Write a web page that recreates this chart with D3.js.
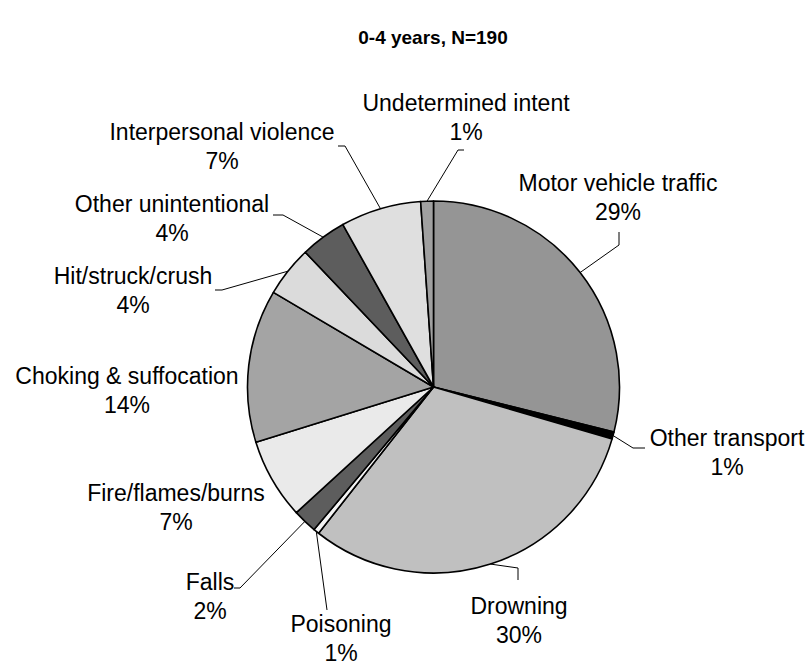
<!DOCTYPE html>
<html>
<head>
<meta charset="utf-8">
<script src="https://cdn.jsdelivr.net/npm/d3@7/dist/d3.min.js"></script>
<style>
  html, body { margin: 0; padding: 0; background: #fff; }
  text { font-family: "Liberation Sans", Arial, sans-serif; fill: #000; }
</style>
</head>
<body>
<svg id="chart" width="808" height="665"></svg>
<script>
// ---- data ----
const title = "0-4 years, N=190";
const categories = [
  "Motor vehicle traffic", "Other transport", "Drowning", "Poisoning", "Falls",
  "Fire/flames/burns", "Choking & suffocation", "Hit/struck/crush",
  "Other unintentional", "Interpersonal violence", "Undetermined intent"
];
// share of the pie (percent, as measured from slice angles)
const shares = [28.9, 0.6, 31.1, 0.5, 2.1, 7.0, 13.3, 4.4, 4.0, 7.0, 1.1];
// percentages printed on the chart
const pctLabels = ["29%", "1%", "30%", "1%", "2%", "7%", "14%", "4%", "4%", "7%", "1%"];

// ---- styling ----
const fills = [
  {base: "#a4a4a4", dot: "#868686"},  // MVT
  {base: "#000000", dot: "#000000"},  // other transport
  {base: "#c0c0c0", dot: "#c0c0c0"},  // drowning
  {base: "#f4f4f4", dot: "#f4f4f4"},  // poisoning
  {base: "#6c6c6c", dot: "#4e4e4e"},  // falls
  {base: "#ffffff", dot: "#d4d4d4"},  // fire
  {base: "#b0b0b0", dot: "#989898"},  // choking
  {base: "#eeeeee", dot: "#c8c8c8"},  // hit
  {base: "#6c6c6c", dot: "#4e4e4e"},  // other unint
  {base: "#f2f2f2", dot: "#cccccc"},  // IV
  {base: "#b0b0b0", dot: "#909090"}   // undetermined
];

// label layout: text center x, first-line baseline y, leader elbow/end points
const layout = [
  {x: 618, y: 191, leader: [[619, 245], [619, 232]]},
  {x: 727, y: 446, leader: [[633, 448], [645, 448]]},
  {x: 519, y: 614, leader: [[518, 568], [518, 580]]},
  {x: 341, y: 632, leader: [[327, 610]]},
  {x: 210, y: 590, leader: [[240, 588], [234, 588]]},
  {x: 176, y: 501, leader: null},
  {x: 127, y: 384, leader: null},
  {x: 133, y: 284, leader: [[222, 290], [215, 290]]},
  {x: 172, y: 212, leader: [[283, 215], [273, 215]]},
  {x: 222, y: 140, leader: [[345, 146], [338, 146]]},
  {x: 466, y: 111, leader: [[458, 150], [464, 150]]}
];

const W = 808, H = 665;
const cx = 433.5, cy = 387, R = 186;
const fontSize = 23, lineGap = 29;

const svg = d3.select("#chart");
const defs = svg.append("defs");

fills.forEach((f, i) => {
  const p = defs.append("pattern")
    .attr("id", "pat" + i)
    .attr("patternUnits", "userSpaceOnUse")
    .attr("width", 2).attr("height", 2);
  p.append("rect").attr("width", 2).attr("height", 2).attr("fill", f.base);
  p.append("rect").attr("x", 0).attr("y", 0).attr("width", 1).attr("height", 1).attr("fill", f.dot);
  p.append("rect").attr("x", 1).attr("y", 1).attr("width", 1).attr("height", 1).attr("fill", f.dot);
});

svg.append("text")
  .attr("x", 433).attr("y", 44)
  .attr("text-anchor", "middle")
  .style("font-size", "19px").style("font-weight", "bold")
  .text(title);

const pie = d3.pie().sort(null).value(d => d)
  .startAngle(0).endAngle(2 * Math.PI);
const arcs = pie(shares);
const arc = d3.arc().innerRadius(0).outerRadius(R);

const g = svg.append("g").attr("transform", `translate(${cx},${cy})`);
g.selectAll("path.slice")
  .data(arcs)
  .join("path")
  .attr("class", "slice")
  .attr("d", arc)
  .attr("fill", (d, i) => `url(#pat${i})`)
  .attr("stroke", "#000")
  .attr("stroke-width", 1.6)
  .attr("stroke-linejoin", "round");

// leader lines: start on the arc at the slice's mid-angle
const leaders = svg.append("g");
arcs.forEach((a, i) => {
  const L = layout[i];
  if (!L.leader) return;
  const mid = (a.startAngle + a.endAngle) / 2;
  const start = [cx + R * Math.sin(mid), cy - R * Math.cos(mid)];
  const pts = [start].concat(L.leader);
  leaders.append("path")
    .attr("d", d3.line()(pts))
    .attr("fill", "none")
    .attr("stroke", "#000")
    .attr("stroke-width", 1);
});

// labels
const labels = svg.append("g");
categories.forEach((c, i) => {
  const L = layout[i];
  const t = labels.append("text")
    .attr("text-anchor", "middle")
    .style("font-size", fontSize + "px");
  t.append("tspan").attr("x", L.x).attr("y", L.y).text(c);
  t.append("tspan").attr("x", L.x).attr("y", L.y + lineGap).text(pctLabels[i]);
});
</script>
</body>
</html>
